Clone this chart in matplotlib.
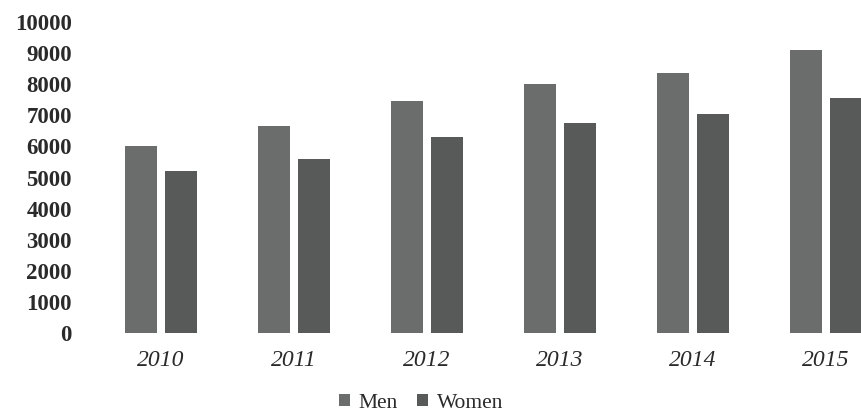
import matplotlib
matplotlib.use("Agg")
import matplotlib.pyplot as plt
import numpy as np

years = ["2010", "2011", "2012", "2013", "2014", "2015"]
men = [6000, 6650, 7450, 8000, 8350, 9100]
women = [5200, 5600, 6300, 6750, 7050, 7550]
yticks = [0, 1000, 2000, 3000, 4000, 5000, 6000, 7000, 8000, 9000, 10000]

plt.rcParams['font.family'] = ['Liberation Serif', 'DejaVu Serif']

W, H = 861, 415
fig = plt.figure(figsize=(W / 100, H / 100), dpi=100)
left_px, right_px = 90, 861
top_px, bottom_px = 22, 333
ax = fig.add_axes([left_px / W, (H - bottom_px) / H,
                   (right_px - left_px) / W, (bottom_px - top_px) / H])

x = np.arange(len(years))
bw = 0.24
off = 0.15
ax.bar(x - off, men, width=bw, color='#6a6d6b', label='Men')
ax.bar(x + off, women, width=bw, color='#585a59', label='Women')

# x range: 0 at pixel 161, 133 px per category
x0 = (left_px - 161) / 133
x1 = (right_px - 161) / 133
ax.set_xlim(x0, x1)
ax.set_ylim(0, 10000)
ax.set_yticks(yticks)
ax.set_yticklabels([str(v) for v in yticks], fontsize=16.5, fontweight='bold', color='#2a2a2a')
ax.set_xticks(x)
ax.set_xticklabels(years, fontsize=17, style='italic', color='#2a2a2a')
ax.tick_params(axis='both', length=0)
ax.tick_params(axis='y', pad=13)
ax.tick_params(axis='x', pad=12)
for s in ax.spines.values():
    s.set_visible(False)

fig.legend(loc='center', bbox_to_anchor=(421 / W, (H - 403) / H), ncol=2, frameon=False,
           fontsize=15.5, handlelength=0.5, handleheight=0.5, handletextpad=0.4,
           columnspacing=0.9, labelcolor='#2a2a2a')

fig.savefig('out.png', dpi=100)
